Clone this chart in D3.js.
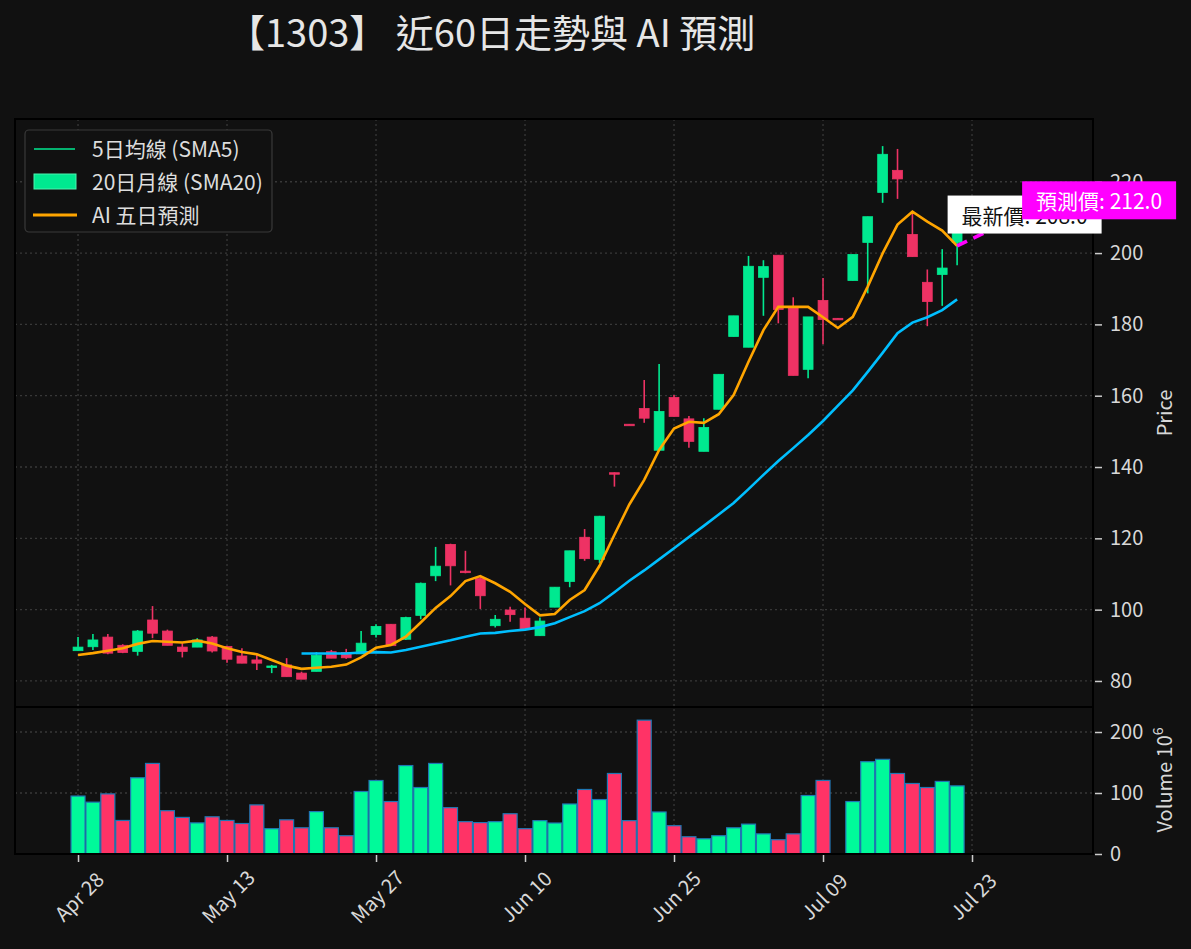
<!DOCTYPE html>
<html>
<head>
<meta charset="utf-8">
<script src="https://cdn.jsdelivr.net/npm/d3@7"></script>
<style>
    body { margin: 0; background: #111111; }
    text { font-family: "Noto Sans CJK TC", "Noto Sans", sans-serif; }
</style>
</head>
<body>
<div id="chart"></div>
<script>
//Tick labels for the trading day axis (one label every 10 trading days)
var tickIndex = [0, 10, 20, 30, 40, 50, 60];
var tickLabels = ["Apr 28", "May 13", "May 27", "Jun 10", "Jun 25", "Jul 09", "Jul 23"];
var priceTicks = [80, 100, 120, 140, 160, 180, 200, 220];
var volumeTicks = [0, 100, 200];

//Daily prices (index 0 = Apr 28)
var opens = [88.5, 89.6, 92.3, 90.0, 88.3, 97.1, 94.0, 89.5, 89.5, 92.3,
    89.7, 87.0, 85.9, 83.8, 84.5, 82.2, 82.7, 88.2, 88.0, 87.6,
    93.0, 95.9, 91.7, 98.4, 109.5, 118.3, 110.8, 108.7, 95.5, 99.9,
    97.6, 92.7, 100.7, 107.9, 120.3, 114.1, 138.4, 152.0, 156.4, 144.7,
    159.5, 153.5, 144.4, 156.2, 176.6, 173.6, 193.2, 199.4, 184.6, 167.4,
    186.7, 181.7, 192.3, 203.0, 217.0, 223.2, 205.2, 191.8, 194.0, 203.0];
var highs = [92.3, 93.2, 93.2, 90.3, 94.3, 101.0, 94.4, 90.6, 92.0, 92.6,
    89.9, 89.2, 87.3, 84.5, 86.4, 82.6, 88.1, 88.7, 89.0, 94.0,
    95.9, 96.0, 98.0, 107.6, 117.6, 118.5, 116.5, 109.2, 98.5, 100.8,
    100.6, 97.8, 106.3, 116.5, 122.6, 126.3, 138.5, 152.0, 164.4, 168.9,
    160.2, 154.3, 153.7, 166.0, 182.4, 199.2, 198.0, 199.4, 187.6, 182.1,
    193.0, 181.7, 199.6, 210.2, 230.0, 229.2, 211.0, 195.4, 201.1, 208.0];
var lows = [88.5, 88.7, 87.5, 87.8, 87.1, 92.0, 90.0, 86.6, 89.5, 88.0,
    85.1, 85.0, 83.1, 82.2, 81.2, 80.5, 82.7, 86.4, 86.2, 87.6,
    92.2, 89.9, 91.5, 97.3, 108.0, 106.8, 110.2, 100.2, 95.0, 96.6,
    94.5, 92.7, 100.7, 106.3, 113.7, 113.1, 134.5, 151.8, 152.4, 144.7,
    154.2, 145.4, 144.4, 156.2, 176.6, 173.6, 182.4, 180.3, 165.7, 164.9,
    174.4, 181.5, 192.3, 188.7, 214.1, 215.2, 199.0, 179.5, 185.2, 196.6];
var closes = [89.5, 91.5, 87.8, 88.0, 94.0, 93.4, 90.0, 88.3, 91.5, 88.4,
    86.1, 85.0, 85.0, 84.2, 81.2, 80.5, 87.2, 86.4, 86.5, 90.6,
    95.3, 89.9, 97.8, 107.4, 112.2, 112.3, 110.5, 103.9, 97.3, 98.6,
    94.5, 96.8, 106.3, 116.5, 114.3, 126.2, 138.0, 151.8, 153.7, 155.6,
    154.2, 147.2, 151.1, 166.0, 182.4, 196.3, 196.2, 184.2, 165.7, 182.1,
    181.4, 181.5, 199.6, 210.2, 227.7, 220.8, 199.0, 186.4, 195.8, 208.0];

//Volume in millions of shares
var volumes = [95, 85, 98.5, 55, 125, 148.5, 71, 60, 51, 61,
    55, 50, 80.5, 41.5, 56, 43, 69.5, 43, 30, 102.5,
    120.5, 86, 145, 109, 148.5, 76, 53, 51.5, 53, 66,
    41.5, 54.7, 50.8, 82, 105.8, 89.3, 132, 54.7, 219.4, 68.9,
    46.4, 28.3, 25, 30, 43, 49, 33, 23.4, 33, 95.9,
    120.6, 0, 86, 151.3, 155.2, 132, 115.6, 109, 119, 111.7];

//Moving averages as drawn (orange = 5 day, blue = 20 day)
var sma5 = [87.3, 87.8, 88.5, 89.2, 90.4, 91.2, 91.0, 90.8, 91.3, 90.5,
    89.2, 88.1, 87.5, 85.9, 84.3, 83.4, 83.7, 84.0, 84.6, 86.6,
    89.3, 90.1, 92.4, 96.4, 100.5, 103.8, 108.0, 109.4, 107.4, 105.0,
    101.6, 98.4, 98.8, 102.7, 105.5, 112.3, 121.0, 129.5, 136.4, 144.8,
    150.8, 152.7, 152.4, 154.8, 160.2, 169.5, 178.4, 184.9, 184.9, 184.9,
    182.0, 179.0, 182.1, 190.6, 199.9, 208.0, 211.6, 208.8, 206.3, 202.0];
var sma20 = [null, null, null, null, null, null, null, null, null, null,
    null, null, null, null, null, 87.7, 87.7, 87.7, 87.7, 88.0,
    88.1, 88.0, 88.7, 89.6, 90.5, 91.4, 92.4, 93.3, 93.5, 94.0,
    94.4, 95.1, 96.2, 97.9, 99.6, 101.8, 104.9, 108.1, 111.0, 114.1,
    117.2, 120.4, 123.5, 126.7, 129.9, 133.8, 137.8, 141.7, 145.3, 149.0,
    152.9, 157.2, 161.5, 166.7, 172.0, 177.5, 180.5, 182.0, 184.0, 187.0];

//AI forecast: from last SMA5 point to the predicted price five days out
var forecastIndex = [59, 64];
var forecastValues = [202.0, 212.0];
var lastPrice = 208.0;
var predPrice = 212.0;

var legendItems = ["5日均線 (SMA5)", "20日月線 (SMA20)", "AI 五日預測"];

function draw() {
    "use strict";
    var W = 1191, H = 949;
    var left = 15, right = 1093, top = 119, mid = 707, bottom = 854;
    var upColor = "#00e990", downColor = "#ee3264";
    var volUp = "#00fa9a", volDown = "#ff3366";
    var textColor = "#d8d8d8";
    var gridColor = "#383838";

    var svg = d3.select("#chart")
            .append("svg")
            .attr("width", W)
            .attr("height", H)
            .style("background", "#111111");

    var x = d3.scaleLinear().domain([-4.23, 68.12]).range([left, right]);
    var y = d3.scaleLinear().domain([72.7, 237.6]).range([mid, top]);
    var yv = d3.scaleLinear().domain([0, 241]).range([bottom, mid]);
    var step = x(1) - x(0);

    var data = d3.range(closes.length).map(function (i) {
        return {i: i, o: opens[i], h: highs[i], l: lows[i], c: closes[i], v: volumes[i]};
    });
    function colorOf(d) { return d.c >= d.o ? upColor : downColor; }

    //panel backgrounds
    svg.append("rect").attr("x", left).attr("y", top).attr("width", right - left)
            .attr("height", bottom - top).attr("fill", "#111111");

    //grid lines (dotted) for both panels
    var grid = svg.append("g").attr("stroke", gridColor).attr("stroke-width", 1.3)
            .attr("stroke-dasharray", "2,3");
    priceTicks.forEach(function (t) {
        grid.append("line").attr("x1", left).attr("x2", right).attr("y1", y(t)).attr("y2", y(t));
    });
    volumeTicks.slice(1).forEach(function (t) {
        grid.append("line").attr("x1", left).attr("x2", right).attr("y1", yv(t)).attr("y2", yv(t));
    });
    tickIndex.forEach(function (t) {
        grid.append("line").attr("x1", x(t)).attr("x2", x(t)).attr("y1", top).attr("y2", bottom);
    });

    //candles
    var candles = svg.append("g");
    candles.selectAll("line.wick").data(data).enter().append("line")
            .attr("class", "wick")
            .attr("x1", function (d) { return x(d.i); })
            .attr("x2", function (d) { return x(d.i); })
            .attr("y1", function (d) { return y(d.h); })
            .attr("y2", function (d) { return y(d.l); })
            .attr("stroke", colorOf)
            .attr("stroke-width", 1.6);
    candles.selectAll("rect.body").data(data).enter().append("rect")
            .attr("class", "body")
            .attr("x", function (d) { return x(d.i) - step * 0.33; })
            .attr("width", step * 0.66)
            .attr("y", function (d) { return y(Math.max(d.o, d.c)); })
            .attr("height", function (d) { return Math.max(1.5, Math.abs(y(d.o) - y(d.c))); })
            .attr("fill", colorOf)
            .attr("stroke", colorOf)
            .attr("stroke-width", 0.8);

    //moving averages
    var line = d3.line()
            .defined(function (d) { return d.v !== null; })
            .x(function (d) { return x(d.i); })
            .y(function (d) { return y(d.v); });
    svg.append("path")
            .attr("d", line(sma20.map(function (v, i) { return {i: i, v: v}; })))
            .attr("fill", "none").attr("stroke", "#00bfff").attr("stroke-width", 2.6);
    svg.append("path")
            .attr("d", line(sma5.map(function (v, i) { return {i: i, v: v}; })))
            .attr("fill", "none").attr("stroke", "#ffa500").attr("stroke-width", 2.6);

    //forecast dashed line
    svg.append("path")
            .attr("d", line(forecastIndex.map(function (t, k) { return {i: t, v: forecastValues[k]}; })))
            .attr("fill", "none").attr("stroke", "#ff00ff").attr("stroke-width", 3.6)
            .attr("stroke-dasharray", "11,7");

    //volume bars
    svg.append("g").selectAll("rect").data(data.filter(function (d) { return d.v > 0; }))
            .enter().append("rect")
            .attr("x", function (d) { return x(d.i) - step * 0.47; })
            .attr("width", step * 0.94)
            .attr("y", function (d) { return yv(d.v); })
            .attr("height", function (d) { return yv(0) - yv(d.v); })
            .attr("fill", function (d) { return d.c >= d.o ? volUp : volDown; })
            .attr("stroke", "#1f77b4")
            .attr("stroke-width", 1.2);

    //spines
    svg.append("rect").attr("x", left).attr("y", top).attr("width", right - left)
            .attr("height", mid - top).attr("fill", "none").attr("stroke", "#000").attr("stroke-width", 2);
    svg.append("rect").attr("x", left).attr("y", mid).attr("width", right - left)
            .attr("height", bottom - mid).attr("fill", "none").attr("stroke", "#000").attr("stroke-width", 2);

    //right hand axes
    function styleAxis(g) {
        g.select(".domain").remove();
        g.selectAll(".tick line").attr("stroke", "#cccccc").attr("stroke-width", 1.5);
        g.selectAll(".tick text").attr("fill", textColor).style("font-size", "20px")
                .style("font-family", "'Noto Sans CJK TC', sans-serif");
    }
    svg.append("g").attr("transform", "translate(" + (right + 2) + ",0)")
            .call(d3.axisRight(y).tickValues(priceTicks).tickSize(7).tickPadding(8))
            .call(styleAxis);
    svg.append("g").attr("transform", "translate(" + (right + 2) + ",0)")
            .call(d3.axisRight(yv).tickValues(volumeTicks).tickSize(7).tickPadding(8))
            .call(styleAxis);

    //bottom date axis
    var xAxis = svg.append("g").attr("transform", "translate(0," + (bottom + 1) + ")")
            .call(d3.axisBottom(x).tickValues(tickIndex)
                    .tickFormat(function (d, k) { return tickLabels[k]; })
                    .tickSize(7).tickPadding(8))
            .call(styleAxis);
    xAxis.selectAll(".tick text")
            .attr("y", 0).attr("dy", null)
            .attr("text-anchor", "middle")
            .attr("transform", "translate(0,41) rotate(-45)")
            .attr("dominant-baseline", "central");

    //axis titles
    svg.append("text").attr("transform", "translate(1172,413) rotate(-90)")
            .attr("text-anchor", "middle").attr("fill", textColor)
            .style("font-size", "20px").text("Price");
    var vlab = svg.append("text").attr("transform", "translate(1172,780) rotate(-90)")
            .attr("text-anchor", "middle").attr("fill", textColor)
            .style("font-size", "20px");
    vlab.append("tspan").text("Volume  10");
    vlab.append("tspan").attr("dy", -9).style("font-size", "14px").text("6");

    //title
    svg.append("text").attr("x", 227).attr("y", 47)
            .attr("fill", "#e6e6e6").style("font-size", "38px")
            .text("【1303】 近60日走勢與 AI 預測");

    //legend
    var lg = svg.append("g");
    lg.append("rect").attr("x", 25).attr("y", 130).attr("width", 247).attr("height", 102)
            .attr("rx", 4).attr("fill", "#111111").attr("stroke", "#3a3a3a").attr("stroke-width", 1.2);
    lg.append("line").attr("x1", 34).attr("x2", 75).attr("y1", 149).attr("y2", 149)
            .attr("stroke", upColor).attr("stroke-width", 1.6);
    lg.append("rect").attr("x", 34).attr("y", 174).attr("width", 42).attr("height", 15)
            .attr("fill", upColor).attr("stroke", "#4cf2b0").attr("stroke-width", 1);
    lg.append("line").attr("x1", 33).attr("x2", 77).attr("y1", 215).attr("y2", 215)
            .attr("stroke", "#ffa500").attr("stroke-width", 3);
    lg.selectAll("text").data(legendItems).enter().append("text")
            .attr("x", 92)
            .attr("y", function (d, k) { return [157, 189.5, 222.5][k]; })
            .attr("fill", "#dddddd").style("font-size", "21px")
            .text(function (d) { return d; });

    //price annotations (latest and predicted)
    function tag(xi, value, label, bg, fg) {
        var g = svg.append("g");
        var cy = y(value) - 10;
        var t = g.append("text").attr("x", x(xi) + 4.5).attr("y", cy)
                .attr("dominant-baseline", "central")
                .attr("fill", fg).style("font-size", "21px").text(label);
        var bb = t.node().getBBox();
        g.insert("rect", "text").attr("x", bb.x - 14).attr("y", cy - 19)
                .attr("width", bb.width + 28).attr("height", 38).attr("fill", bg);
    }
    tag(59, lastPrice, "最新價: " + lastPrice.toFixed(1), "#ffffff", "#111111");
    tag(64, predPrice, "預測價: " + predPrice.toFixed(1), "#ff00ff", "#ffffff");
}
draw();
</script>
</body>
</html>
